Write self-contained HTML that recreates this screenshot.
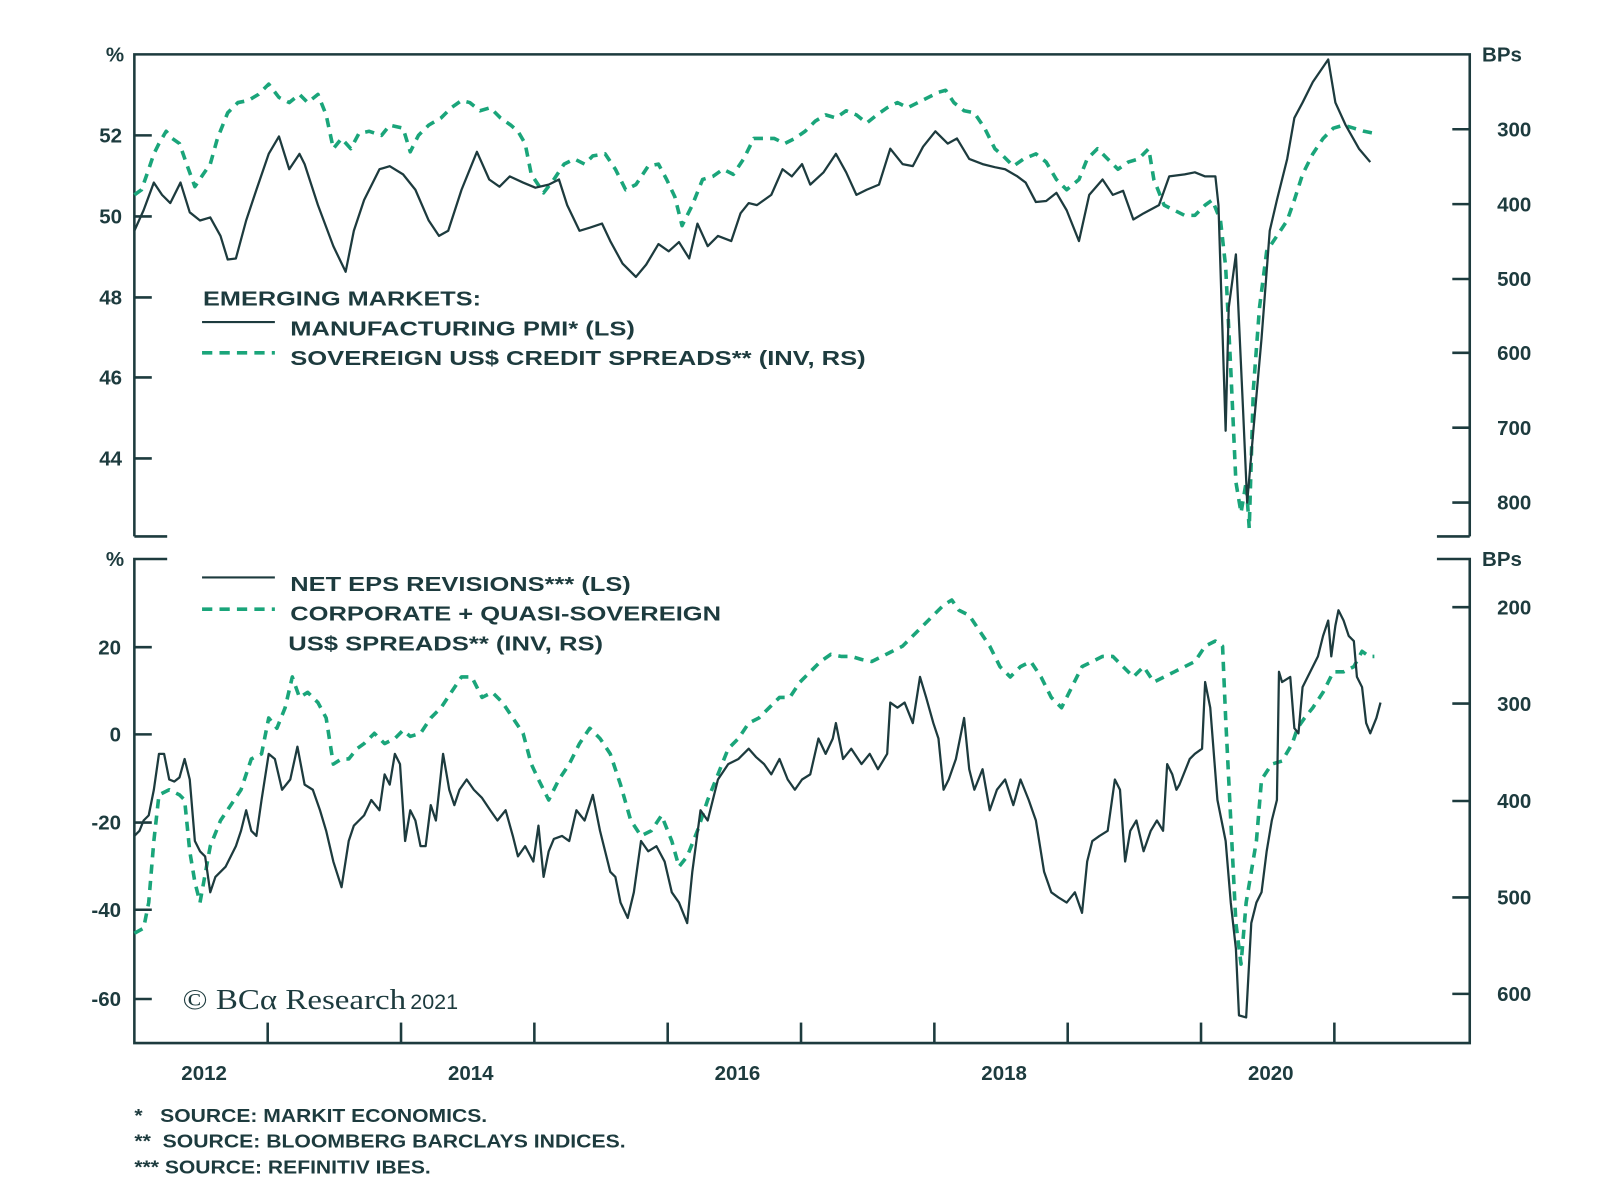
<!DOCTYPE html>
<html><head><meta charset="utf-8"><style>
html,body{margin:0;padding:0;background:#fff;}
svg{display:block}
text{font-family:"Liberation Sans",Arial,sans-serif;font-weight:bold;fill:#1d3b3e;}
</style></head><body>
<svg width="1600" height="1200" viewBox="0 0 1560 1170" preserveAspectRatio="none" xmlns="http://www.w3.org/2000/svg">
<g stroke="#1d3b3e" stroke-width="2.5" fill="none">
<polyline points="131,523 131,53 1433,53 1433,523"/>
<line x1="131" y1="523" x2="163" y2="523"/><line x1="1401" y1="523" x2="1433" y2="523"/>
<polyline points="163,545 131,545 131,1017 1433,1017 1433,545 1401,545"/>
<line x1="131" y1="132" x2="148" y2="132"/><line x1="131" y1="211" x2="148" y2="211"/><line x1="131" y1="290" x2="148" y2="290"/><line x1="131" y1="368" x2="148" y2="368"/><line x1="131" y1="447" x2="148" y2="447"/>
<line x1="1416" y1="126" x2="1433" y2="126"/><line x1="1416" y1="199" x2="1433" y2="199"/><line x1="1416" y1="272" x2="1433" y2="272"/><line x1="1416" y1="344" x2="1433" y2="344"/><line x1="1416" y1="417" x2="1433" y2="417"/><line x1="1416" y1="490" x2="1433" y2="490"/>
<line x1="131" y1="631" x2="148" y2="631"/><line x1="131" y1="716" x2="148" y2="716"/><line x1="131" y1="802" x2="148" y2="802"/><line x1="131" y1="887" x2="148" y2="887"/><line x1="131" y1="974" x2="148" y2="974"/>
<line x1="1416" y1="592" x2="1433" y2="592"/><line x1="1416" y1="686" x2="1433" y2="686"/><line x1="1416" y1="781" x2="1433" y2="781"/><line x1="1416" y1="875" x2="1433" y2="875"/><line x1="1416" y1="969" x2="1433" y2="969"/>
<line x1="261" y1="997" x2="261" y2="1017"/><line x1="391" y1="997" x2="391" y2="1017"/><line x1="521" y1="997" x2="521" y2="1017"/><line x1="651" y1="997" x2="651" y2="1017"/><line x1="781" y1="997" x2="781" y2="1017"/><line x1="911" y1="997" x2="911" y2="1017"/><line x1="1041" y1="997" x2="1041" y2="1017"/><line x1="1171" y1="997" x2="1171" y2="1017"/><line x1="1301" y1="997" x2="1301" y2="1017"/>
</g>
<g font-size="20">
<text x="121" y="60" text-anchor="end">%</text>
<text x="119" y="139" text-anchor="end">52</text><text x="119" y="218" text-anchor="end">50</text><text x="119" y="297" text-anchor="end">48</text><text x="119" y="375" text-anchor="end">46</text><text x="119" y="454" text-anchor="end">44</text>
<text x="1445" y="60">BPs</text>
<text x="1493" y="133" text-anchor="end">300</text><text x="1493" y="206" text-anchor="end">400</text><text x="1493" y="279" text-anchor="end">500</text><text x="1493" y="351" text-anchor="end">600</text><text x="1493" y="424" text-anchor="end">700</text><text x="1493" y="497" text-anchor="end">800</text>
<text x="121" y="552" text-anchor="end">%</text>
<text x="118" y="638" text-anchor="end">20</text><text x="118" y="723" text-anchor="end">0</text><text x="118" y="809" text-anchor="end">-20</text><text x="118" y="894" text-anchor="end">-40</text><text x="118" y="981" text-anchor="end">-60</text>
<text x="1445" y="552">BPs</text>
<text x="1493" y="599" text-anchor="end">200</text><text x="1493" y="693" text-anchor="end">300</text><text x="1493" y="788" text-anchor="end">400</text><text x="1493" y="882" text-anchor="end">500</text><text x="1493" y="976" text-anchor="end">600</text>
<text x="199" y="1053" text-anchor="middle">2012</text><text x="459" y="1053" text-anchor="middle">2014</text><text x="719" y="1053" text-anchor="middle">2016</text><text x="979" y="1053" text-anchor="middle">2018</text><text x="1239" y="1053" text-anchor="middle">2020</text>
<text x="198" y="298" textLength="271" lengthAdjust="spacingAndGlyphs">EMERGING MARKETS:</text>
<text x="283" y="327" textLength="336" lengthAdjust="spacingAndGlyphs">MANUFACTURING PMI* (LS)</text>
<text x="283" y="356" textLength="561" lengthAdjust="spacingAndGlyphs">SOVEREIGN US$ CREDIT SPREADS** (INV, RS)</text>
<text x="283" y="576" textLength="332" lengthAdjust="spacingAndGlyphs">NET EPS REVISIONS*** (LS)</text>
<text x="283" y="605" textLength="420" lengthAdjust="spacingAndGlyphs">CORPORATE + QUASI-SOVEREIGN</text>
<text x="281" y="634" textLength="307" lengthAdjust="spacingAndGlyphs">US$ SPREADS** (INV, RS)</text>
</g>
<g font-size="18">
<text x="131" y="1094" textLength="344" lengthAdjust="spacingAndGlyphs">*&#160;&#160;&#160;SOURCE: MARKIT ECONOMICS.</text>
<text x="131" y="1119" textLength="479" lengthAdjust="spacingAndGlyphs">**&#160;&#160;SOURCE: BLOOMBERG BARCLAYS INDICES.</text>
<text x="131" y="1144" textLength="289" lengthAdjust="spacingAndGlyphs">***&#160;SOURCE: REFINITIV IBES.</text>
</g>
<text x="178" y="984" style="font-family:'Liberation Serif',serif;font-weight:normal" font-size="28" textLength="218" lengthAdjust="spacingAndGlyphs">© BCα Research</text>
<text x="400" y="984" style="font-weight:normal" font-size="21">2021</text>
<line x1="197" y1="314" x2="268" y2="314" stroke="#1d3b3e" stroke-width="2"/>
<line x1="197" y1="344" x2="268" y2="344" stroke="#1aa57a" stroke-width="3.5" stroke-dasharray="10,7"/>
<line x1="197" y1="563" x2="268" y2="563" stroke="#1d3b3e" stroke-width="2"/>
<line x1="197" y1="594" x2="268" y2="594" stroke="#1aa57a" stroke-width="3.5" stroke-dasharray="10,7"/>
<g fill="none" stroke-linejoin="round">
<polyline stroke="#1aa57a" stroke-width="3.5" stroke-dasharray="9,7" points="131,190 138,185 145,165 150,150 155,140 162,128 168,135 175,140 182,160 190,182 198,170 205,160 212,135 222,110 232,100 242,98 252,92 262,82 272,95 282,100 292,92 300,100 310,92 318,112 325,145 333,135 342,145 350,130 360,128 372,132 380,122 393,125 400,148 408,132 418,122 430,115 440,105 450,98 458,100 468,108 478,105 488,115 498,122 505,128 512,140 518,170 530,188 540,175 550,160 560,155 570,160 578,152 590,150 600,165 610,185 620,180 632,162 642,160 650,175 658,192 665,220 675,200 685,175 695,172 705,165 715,170 725,155 735,135 745,135 755,135 765,140 775,135 785,128 795,118 805,112 815,115 825,108 835,112 845,120 855,112 865,105 875,100 885,105 895,100 905,95 915,90 922,88 930,100 940,108 950,110 960,125 970,145 978,152 988,162 998,155 1010,150 1020,158 1030,175 1040,185 1052,175 1060,155 1070,145 1080,155 1090,165 1100,158 1110,155 1120,145 1125,175 1135,200 1145,205 1155,210 1165,210 1175,200 1182,195 1190,215 1195,260 1200,360 1205,470 1210,500 1215,470 1218,515 1222,380 1228,300 1235,245 1245,230 1255,215 1262,195 1270,170 1280,150 1290,135 1300,125 1310,122 1320,125 1330,128 1340,130"/>
<polyline stroke="#1d3b3e" stroke-width="2.2" points="131,225 140,205 150,178 158,190 166,198 176,178 185,207 195,215 205,212 215,230 222,253 230,252 240,215 250,185 262,150 272,133 282,165 292,150 297,160 310,200 325,240 337,265 345,225 355,195 370,165 380,162 393,170 405,185 418,215 428,230 437,225 450,185 465,148 477,175 487,182 497,172 510,178 522,183 535,180 545,175 553,200 565,225 575,222 587,218 595,235 607,257 620,270 630,258 642,238 652,245 662,236 672,252 680,218 690,240 700,230 713,235 722,208 730,198 738,200 752,190 763,165 772,172 782,160 790,180 803,168 815,150 825,168 835,190 845,185 857,180 868,145 880,160 890,162 900,143 912,128 924,140 933,135 945,155 958,160 970,163 980,165 992,172 1000,178 1010,197 1020,196 1030,188 1040,205 1052,235 1062,190 1075,175 1085,190 1095,186 1105,214 1115,208 1130,200 1140,172 1155,170 1165,168 1175,172 1185,172 1188,200 1195,420 1198,300 1205,248 1212,400 1216,490 1222,420 1230,330 1238,225 1245,195 1255,155 1262,115 1270,100 1280,80 1295,58 1302,100 1312,122 1325,145 1336,158"/>
<polyline stroke="#1aa57a" stroke-width="3.5" stroke-dasharray="9,7" points="131,910 140,905 145,880 150,820 155,775 165,770 175,775 180,780 185,830 190,860 195,880 205,825 215,800 225,785 235,770 245,740 255,735 262,700 270,710 278,690 285,660 292,680 300,675 310,685 318,700 325,745 333,740 340,740 348,730 355,725 365,715 375,725 385,720 393,712 400,718 410,715 420,700 430,690 440,675 450,660 460,660 470,680 480,675 490,685 500,700 510,715 518,745 525,760 535,780 545,760 555,745 565,725 575,710 585,720 595,735 605,765 615,800 625,815 635,810 645,795 655,820 662,845 670,835 680,810 690,780 700,755 710,730 720,720 730,705 740,700 750,690 760,680 770,680 780,665 790,655 800,645 810,638 820,640 830,640 840,643 850,645 860,640 870,635 880,630 890,620 900,610 910,600 920,590 928,585 935,595 945,600 955,615 965,630 975,650 985,660 995,650 1005,645 1015,660 1025,680 1035,690 1045,670 1055,650 1065,645 1075,640 1085,640 1095,650 1105,660 1115,650 1125,665 1135,660 1145,655 1155,650 1165,645 1175,630 1185,625 1192,630 1195,700 1200,800 1205,900 1210,940 1215,880 1220,850 1225,820 1230,760 1240,745 1250,742 1260,725 1265,710 1272,700 1280,690 1290,675 1300,655 1310,655 1320,650 1328,635 1335,640 1340,640"/>
<polyline stroke="#1d3b3e" stroke-width="2.2" points="131,815 136,810 140,800 145,795 150,770 155,735 160,735 165,760 170,762 175,758 180,740 185,760 190,820 195,830 200,835 205,870 210,855 215,850 220,845 225,835 230,825 235,810 240,790 245,810 250,815 255,780 262,735 268,740 275,770 283,760 290,728 297,765 305,770 312,790 318,810 325,840 333,865 340,820 345,805 350,800 355,795 362,780 370,790 375,755 380,765 385,735 390,745 395,820 400,790 405,800 410,825 415,825 420,785 425,800 432,735 438,770 443,785 448,770 455,760 462,770 470,778 478,790 485,800 493,790 500,815 505,835 512,825 520,840 525,805 530,855 535,830 540,818 548,815 555,820 562,790 570,800 578,775 585,810 590,830 595,850 600,855 605,880 612,895 618,870 625,820 632,830 640,825 648,840 655,870 662,880 670,900 675,850 683,790 690,800 700,760 710,745 720,740 730,730 737,738 745,745 752,755 760,740 768,760 775,770 782,760 790,755 798,720 805,735 812,720 815,705 822,740 830,730 840,745 848,735 856,750 865,735 868,685 875,690 882,685 890,705 897,660 903,680 910,705 915,720 920,770 925,760 932,740 940,700 945,750 950,770 958,750 965,790 972,770 980,760 988,785 995,760 1003,780 1010,800 1018,850 1025,870 1032,875 1040,880 1048,870 1055,890 1060,840 1065,820 1072,815 1080,810 1087,760 1092,770 1097,840 1102,810 1108,800 1115,830 1122,810 1128,800 1134,810 1138,745 1143,755 1147,770 1150,765 1160,740 1165,735 1172,730 1175,665 1180,690 1187,780 1195,820 1200,880 1205,925 1208,990 1215,992 1220,900 1225,880 1230,870 1235,830 1240,800 1245,780 1247,655 1250,665 1258,660 1262,710 1266,715 1270,670 1275,660 1280,650 1285,640 1290,620 1295,605 1298,640 1302,610 1305,595 1310,605 1315,620 1320,625 1323,660 1328,670 1332,705 1336,715 1342,700 1346,685"/>
</g>
</svg>
</body></html>
